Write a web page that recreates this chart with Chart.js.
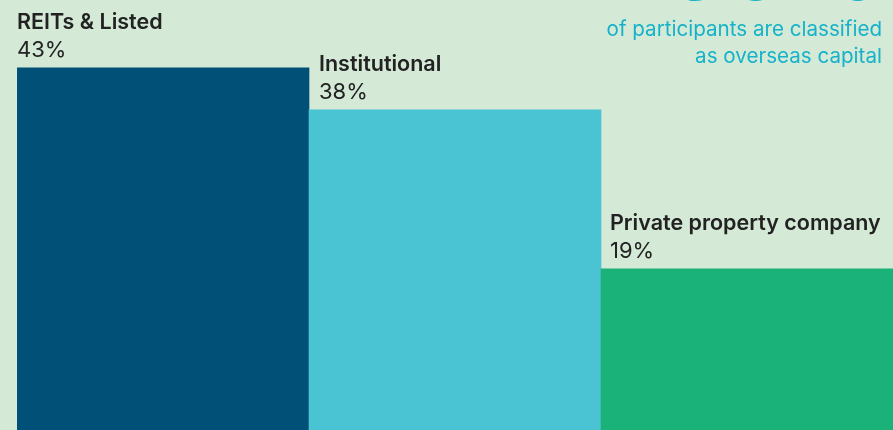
<!DOCTYPE html>
<html>
<head>
<meta charset="utf-8">
<script src="https://cdn.jsdelivr.net/npm/chart.js@4/dist/chart.umd.min.js"></script>
<style>
  html, body { margin: 0; padding: 0; background: #d4e9d6; overflow: hidden; }
  canvas { display: block; }
</style>
</head>
<body>
<canvas id="chart" width="893" height="430"></canvas>
<script>
const categories = ['REITs & Listed', 'Institutional', 'Private property company'];
const shares = [43, 38, 19];
const barColors = ['#005077', '#4ac3d3', '#1bb27a'];
const headline = '60%';
const note = ['of participants are classified', 'as overseas capital'];

// label offset from each bar's left edge
const labelPad = [0, 10, 9];

const labelsPlugin = {
    id: 'barLabels',
    afterDatasetsDraw(chart) {
        const ctx = chart.ctx;
        const meta = chart.getDatasetMeta(0);
        ctx.save();
        ctx.textAlign = 'left';
        ctx.textBaseline = 'alphabetic';
        ctx.fillStyle = '#222222';
        meta.data.forEach((bar, i) => {
            const left = bar.x - bar.width / 2 + labelPad[i];
            ctx.font = '600 21.5px Inter';
            ctx.fillText(categories[i], left, bar.y - 39);
            ctx.font = '400 22px Inter';
            ctx.fillText(shares[i] + '%', left, bar.y - 11);
        });

        // headline figure, mostly off the top of the canvas
        ctx.fillStyle = '#16b2c9';
        ctx.textAlign = 'right';
        ctx.font = '500 96px Inter';
        ctx.fillText(headline, 882, 0);
        ctx.font = '400 20.6px Inter';
        ctx.fillText(note[0], 882, 36);
        ctx.fillText(note[1], 882, 63);
        ctx.restore();
    }
};

new Chart(document.getElementById('chart'), {
    type: 'bar',
    data: {
        labels: categories,
        datasets: [{
            data: shares,
            backgroundColor: barColors,
            borderWidth: 0,
            barPercentage: 1,
            categoryPercentage: 1,
            base: -0.23
        }]
    },
    options: {
        responsive: false,
        animation: false,
        layout: { padding: { left: 17, right: 0, top: 0, bottom: 0 } },
        plugins: {
            legend: { display: false },
            tooltip: { enabled: false }
        },
        scales: {
            x: { display: false },
            y: { display: false, min: -0.23, max: 51.11 }
        }
    },
    plugins: [labelsPlugin]
});
</script>
</body>
</html>
